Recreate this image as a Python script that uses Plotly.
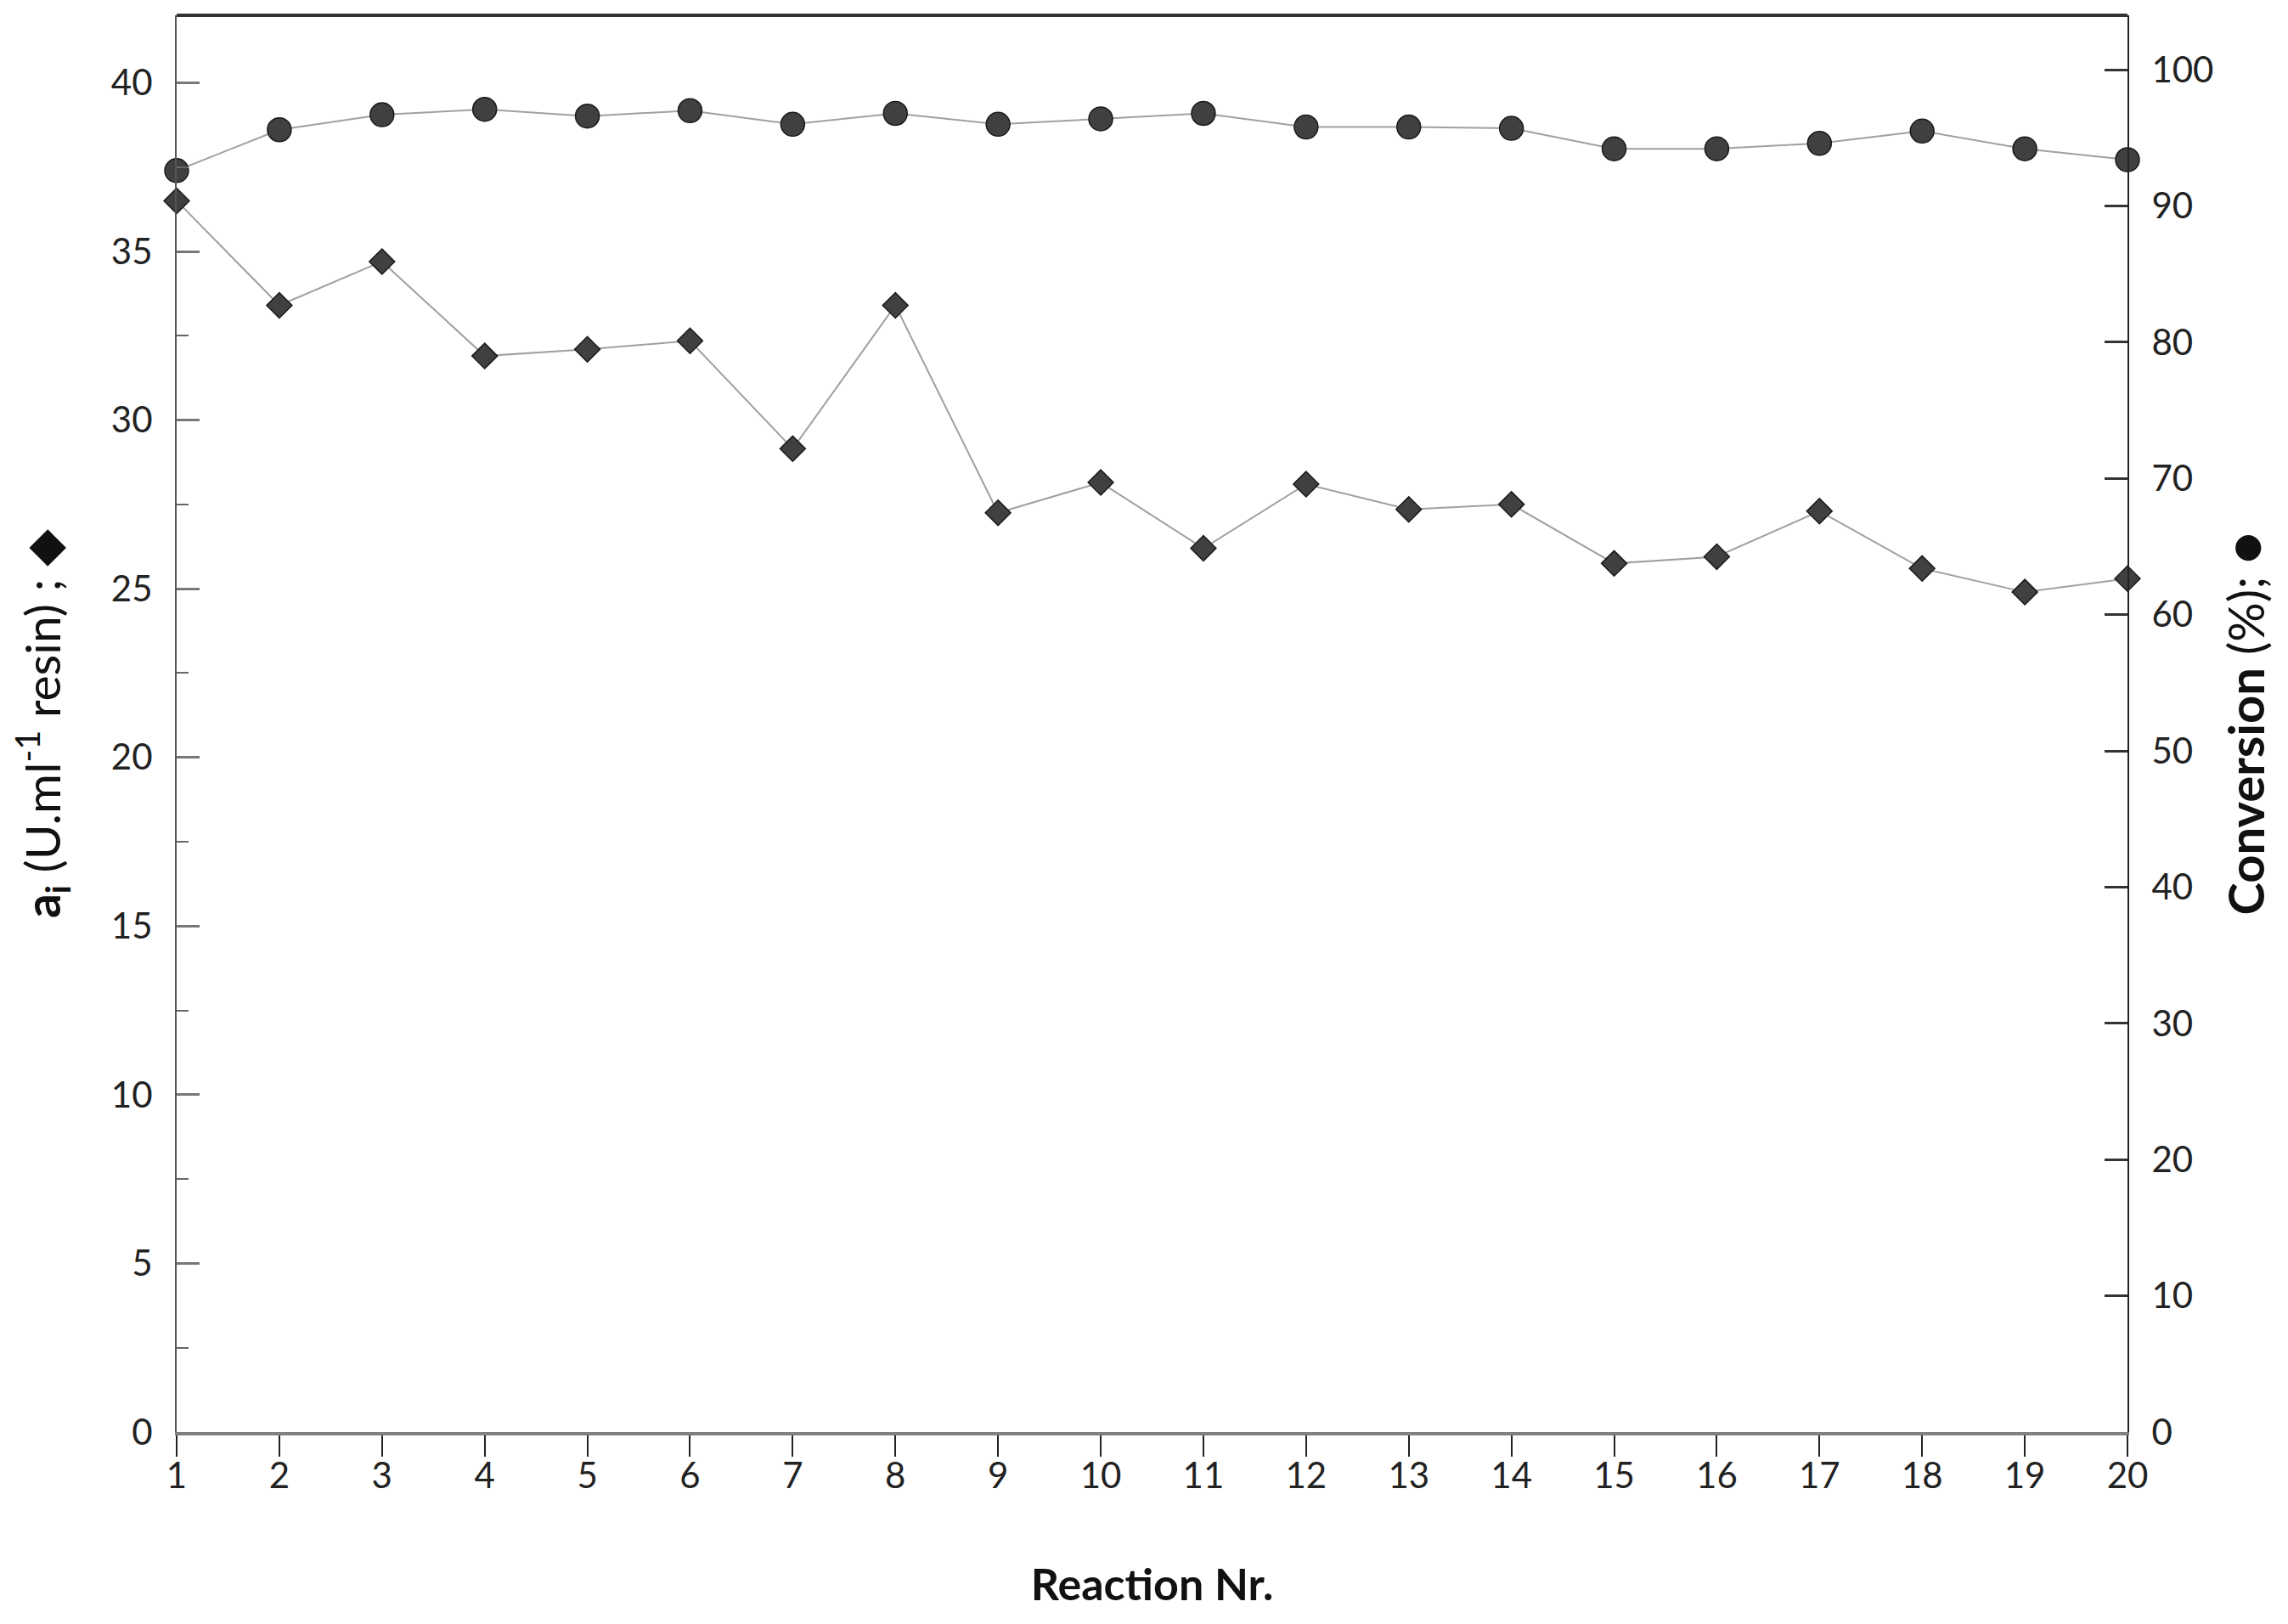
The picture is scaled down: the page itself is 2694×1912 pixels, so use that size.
import plotly.graph_objects as go

reactions = list(range(1, 21))
activity = [36.5, 33.4, 34.7, 31.9, 32.1, 32.35, 29.15, 33.4, 27.25, 28.15,
            26.2, 28.1, 27.35, 27.5, 25.75, 25.95, 27.3, 25.6, 24.9, 25.3]
conversion = [92.6, 95.6, 96.7, 97.1, 96.6, 97.0, 96.0, 96.8, 96.0, 96.4,
              96.8, 95.8, 95.8, 95.7, 94.2, 94.2, 94.6, 95.5, 94.2, 93.4]
x_ticks = list(range(1, 21))
left_ticks = list(range(0, 41, 5))
right_ticks = list(range(0, 101, 10))

FONT = "Lato"
MARK = "#404040"
LINE = "#a0a0a0"

fig = go.Figure()
fig.add_trace(go.Scatter(
    x=reactions, y=activity, mode="lines+markers", yaxis="y",
    line=dict(color=LINE, width=2),
    marker=dict(symbol="diamond", size=23, color=MARK, line=dict(color="#1a1a1a", width=1.5)),
    cliponaxis=False, showlegend=False))
fig.add_trace(go.Scatter(
    x=reactions, y=conversion, mode="lines+markers", yaxis="y2",
    line=dict(color=LINE, width=2),
    marker=dict(symbol="circle", size=28, color=MARK, line=dict(color="#1a1a1a", width=1.5)),
    cliponaxis=False, showlegend=False))

fig.update_layout(
    width=2694, height=1912,
    margin=dict(l=200, r=197, t=10, b=234),
    paper_bgcolor="white", plot_bgcolor="white",
    font=dict(family=FONT, size=42, color="#111111"),
    xaxis=dict(
        range=[1, 20], tickmode="array", tickvals=x_ticks, automargin=False,
        showgrid=False, zeroline=False, showline=True, linecolor="#808080", linewidth=4,
        ticks="outside", ticklen=25, tickwidth=2, tickcolor="#222222",
        ticklabelstandoff=-13, tickfont=dict(size=42, color="#222222"),
        title=dict(text="<b>Reaction Nr.</b>", font=dict(size=52), standoff=88),
    ),
    yaxis=dict(
        range=[0, 42], tickmode="array", tickvals=left_ticks, automargin=False,
        showgrid=False, zeroline=False, showline=True, linecolor="#555555", linewidth=2,
        ticks="inside", ticklen=27, tickwidth=3, tickcolor="#777777",
        minor=dict(dtick=2.5, ticks="inside", ticklen=14, tickwidth=2, tickcolor="#666666"),
        ticklabelstandoff=18, tickfont=dict(size=42, color="#222222"),
        title=dict(text="<b>a<sub>i</sub></b> (U.ml<sup>-1</sup> resin) ; ◆",
                   font=dict(size=57), standoff=84),
    ),
    yaxis2=dict(
        range=[0, 104], overlaying="y", side="right", tickmode="array", tickvals=right_ticks,
        automargin=False,
        showgrid=False, zeroline=False, showline=True, linecolor="#222222", linewidth=2,
        ticks="inside", ticklen=27, tickwidth=3, tickcolor="#333333",
        ticklabelstandoff=18, tickfont=dict(size=42, color="#222222"),
        title=dict(text="<b>Conversion</b> (%); <span style='font-size:62px'>●</span>",
                   font=dict(size=58), standoff=20),
    ),
    shapes=[dict(type="line", xref="paper", yref="paper", x0=0, x1=1, y0=1, y1=1,
                 line=dict(color="#333333", width=4))],
)

fig.write_html("out.html")
